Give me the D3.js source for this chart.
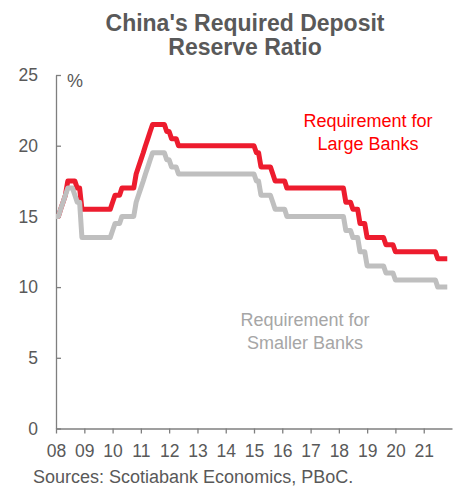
<!DOCTYPE html>
<html>
<head>
<meta charset="utf-8">
<script src="https://cdn.jsdelivr.net/npm/d3@7"></script>
<style>
  body { margin: 0; background: #fff; }
  text { font-family: "Liberation Sans", Arial, sans-serif; }
</style>
</head>
<body>
<svg id="grafico"></svg>
<script>
// dates when the ratio changed, and the new level (%)
var mudancasGrandes = [
  ["2008-01-25",15],["2008-03-25",15.5],["2008-04-25",16],["2008-05-20",16.5],["2008-06-15",17],["2008-06-25",17.5],
  ["2008-10-15",17],["2008-12-05",16],["2008-12-25",15.5],
  ["2010-01-18",16],["2010-02-25",16.5],["2010-05-10",17],["2010-11-16",17.5],["2010-11-29",18],["2010-12-20",18.5],
  ["2011-01-20",19],["2011-02-24",19.5],["2011-03-25",20],["2011-04-21",20.5],["2011-05-18",21],["2011-06-20",21.5],
  ["2011-12-05",21],["2012-02-24",20.5],["2012-05-18",20],
  ["2015-02-05",19.5],["2015-04-20",18.5],["2015-09-06",18],["2015-10-24",17.5],["2016-03-01",17],
  ["2018-04-25",16],["2018-07-05",15.5],["2018-10-15",14.5],["2019-01-15",14],["2019-01-25",13.5],
  ["2019-09-16",13],["2020-01-06",12.5],["2021-07-15",12]
];
var mudancasPequenos = [
  ["2008-01-25",15],["2008-03-25",15.5],["2008-04-25",16],["2008-05-20",16.5],["2008-06-15",17],
  ["2008-09-25",16.5],["2008-10-15",16],["2008-12-05",14],["2008-12-25",13.5],
  ["2010-01-18",14],["2010-02-25",14.5],["2010-05-10",15],["2010-11-16",15.5],["2010-11-29",16],["2010-12-20",16.5],
  ["2011-01-20",17],["2011-02-24",17.5],["2011-03-25",18],["2011-04-21",18.5],["2011-05-18",19],["2011-06-20",19.5],
  ["2011-12-05",19],["2012-02-24",18.5],["2012-05-18",18],
  ["2015-02-05",17.5],["2015-04-20",16.5],["2015-09-06",16],["2015-10-24",15.5],["2016-03-01",15],
  ["2018-04-25",14],["2018-07-05",13.5],["2018-10-15",12.5],["2019-01-15",12],["2019-01-25",11.5],
  ["2019-09-16",11],["2020-01-06",10.5],["2021-07-15",10]
];
var nivelInicial = 14.5;
var anos = d3.range(2008, 2022);
var ticksY = [0, 5, 10, 15, 20, 25];

var cinza = '#595959';
var largura = 458, altura = 487;

var svg = d3.select('#grafico').attr('width', largura).attr('height', altura);

var parse = d3.timeParse('%Y-%m-%d');
var meses = d3.timeMonth.range(new Date(2008, 0, 1), new Date(2021, 11, 1));

// month-end level from the list of changes
function mensal(mudancas) {
  var pts = mudancas.map(d => ({ data: parse(d[0]), valor: d[1] }));
  var bis = d3.bisector(d => d.data).left;
  return meses.map(function(m) {
    var i = bis(pts, d3.timeMonth.offset(m, 1));
    return { data: m, valor: i > 0 ? pts[i - 1].valor : nivelInicial };
  });
}

var x = d3.scaleTime().domain([new Date(2008, 0, 1), new Date(2022, 0, 1)]).range([56, 452]);
var y = d3.scaleLinear().domain([0, 25]).range([428.5, 75]);

// eixos
svg.append('g').attr('transform', 'translate(0,' + y(0) + ')')
  .call(d3.axisBottom(x).tickValues(anos.map(a => new Date(a, 0, 1)))
    .tickFormat(d3.timeFormat('%y')).tickSize(5).tickSizeOuter(0).tickPadding(11));
svg.append('g').attr('transform', 'translate(' + x.range()[0] + ',0)')
  .call(d3.axisLeft(y).tickValues(ticksY).tickSizeInner(-5).tickSizeOuter(0).tickPadding(18));

svg.selectAll('.domain, .tick line').attr('stroke', '#7f7f7f').attr('stroke-width', 1.3);
svg.selectAll('.tick text').attr('fill', cinza).style('font-size', '17.5px')
  .style('font-family', '"Liberation Sans", Arial, sans-serif');

var linha = d3.line().x(d => x(d.data)).y(d => y(d.valor));

svg.append('path').datum(mensal(mudancasGrandes))
  .attr('d', linha).attr('fill', 'none').attr('stroke', '#ed1c2e')
  .attr('stroke-width', 5).attr('stroke-linejoin', 'round');
svg.append('path').datum(mensal(mudancasPequenos))
  .attr('d', linha).attr('fill', 'none').attr('stroke', '#bfbfbf')
  .attr('stroke-width', 5).attr('stroke-linejoin', 'round');

// titulo
svg.append('text').attr('x', 245).attr('y', 31).attr('text-anchor', 'middle')
  .attr('fill', cinza).style('font-size', '23px').style('font-weight', 'bold')
  .text("China's Required Deposit");
svg.append('text').attr('x', 245).attr('y', 55).attr('text-anchor', 'middle')
  .attr('fill', cinza).style('font-size', '23px').style('font-weight', 'bold')
  .text('Reserve Ratio');

svg.append('text').attr('x', 67).attr('y', 87).attr('fill', cinza)
  .style('font-size', '18px').text('%');

// rotulos das series
svg.append('text').attr('x', 368).attr('y', 127).attr('text-anchor', 'middle')
  .attr('fill', '#ff0000').style('font-size', '18px').text('Requirement for');
svg.append('text').attr('x', 368).attr('y', 150).attr('text-anchor', 'middle')
  .attr('fill', '#ff0000').style('font-size', '18px').text('Large Banks');
svg.append('text').attr('x', 305).attr('y', 326).attr('text-anchor', 'middle')
  .attr('fill', '#a6a6a6').style('font-size', '18px').text('Requirement for');
svg.append('text').attr('x', 305).attr('y', 349).attr('text-anchor', 'middle')
  .attr('fill', '#a6a6a6').style('font-size', '18px').text('Smaller Banks');

svg.append('text').attr('x', 33).attr('y', 483).attr('fill', cinza)
  .style('font-size', '18px').text('Sources: Scotiabank Economics, PBoC.');
</script>
</body>
</html>
